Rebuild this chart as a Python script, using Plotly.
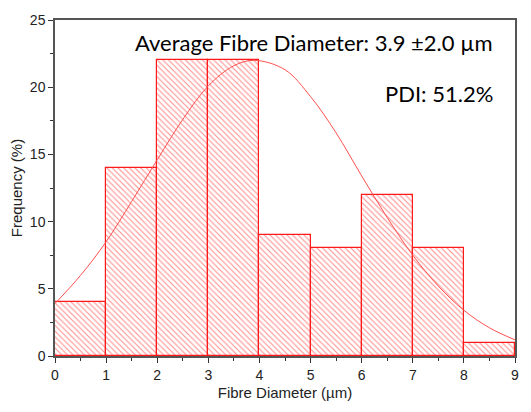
import plotly.graph_objects as go

bin_centers = [0.5, 1.5, 2.5, 3.5, 4.5, 5.5, 6.5, 7.5, 8.5]
frequency = [4, 14, 22, 22, 9, 8, 12, 8, 1]
fit_x = [0, 0.5, 1, 1.5, 2, 2.5, 3, 3.5, 3.9, 4.5, 5, 5.5, 6, 6.5, 7, 7.5, 8, 8.5, 9]
fit_y = [3.9, 6.0, 8.5, 11.5, 14.6, 17.6, 20.1, 21.6, 22.0, 21.3, 19.3, 16.6, 13.4, 10.3, 7.5, 5.2, 3.4, 2.1, 1.2]
x_ticks = list(range(0, 10))
y_ticks = [0, 5, 10, 15, 20, 25]

fig = go.Figure()
fig.add_trace(go.Bar(
    x=bin_centers, y=frequency, width=1,
    marker=dict(color="white", line=dict(color="#ff1a1a", width=1.2),
                pattern=dict(shape="\\", fgcolor="#ff2020", bgcolor="white", size=4, solidity=0.28)),
    showlegend=False,
))
fig.add_trace(go.Scatter(
    x=fit_x, y=fit_y, mode="lines", line=dict(color="#ff5050", width=1, shape="spline"),
    showlegend=False,
))

axis_common = dict(showgrid=False, zeroline=False, showline=True, linecolor="#555555", linewidth=1.5,
                   mirror=True, ticks="outside", ticklen=5, tickwidth=1, tickcolor="#333333",
                   tickfont=dict(family="Liberation Sans", size=14, color="#222222"))
fig.update_xaxes(range=[0, 9], tickvals=x_ticks, title=dict(text="Fibre Diameter (µm)", font=dict(family="Liberation Sans", size=15, color="#222222"), standoff=6),
                 minor=dict(ticks="outside", ticklen=3, dtick=0.5, tickcolor="#333333"), **axis_common)
fig.update_yaxes(range=[0, 25], tickvals=y_ticks, title=dict(text="Frequency (%)", font=dict(family="Liberation Sans", size=15, color="#222222"), standoff=4),
                 minor=dict(ticks="outside", ticklen=3, dtick=2.5, tickcolor="#333333"), **axis_common)

fig.add_annotation(x=1, y=1, xref="paper", yref="paper", xanchor="right", yanchor="top", xshift=-20, yshift=-7,
                   text="Average Fibre Diameter: 3.9 ±2.0 µm", showarrow=False,
                   font=dict(family="Lato", size=22, color="black"))
fig.add_annotation(x=1, y=1, xref="paper", yref="paper", xanchor="right", yanchor="top", xshift=-20, yshift=-58,
                   text="PDI: 51.2%", showarrow=False,
                   font=dict(family="Lato", size=22, color="black"))

fig.update_layout(width=531, height=412, margin=dict(l=55, r=13, t=12, b=56),
                  plot_bgcolor="white", paper_bgcolor="white", bargap=0)
fig.write_html("out.html")
